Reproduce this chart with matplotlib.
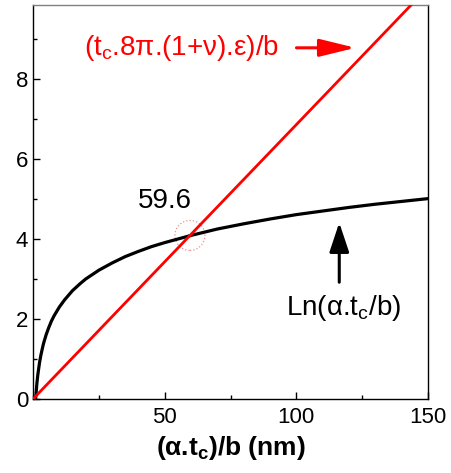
import matplotlib
matplotlib.use("Agg")
import matplotlib.pyplot as plt
from matplotlib.patches import Ellipse
from matplotlib.ticker import MultipleLocator

plt.rcParams["font.family"] = ["Liberation Sans", "DejaVu Sans"]
plt.rcParams["mathtext.fontset"] = "custom"
plt.rcParams["mathtext.rm"] = "Liberation Sans"
plt.rcParams["mathtext.bf"] = "Liberation Sans:bold"

# Ln(alpha.tc/b) curve
ln_x = [1, 1.2, 1.5, 1.8, 2, 2.5, 3, 3.5, 4, 5, 6, 7, 8, 10, 12, 15, 18,
        20, 25, 30, 35, 40, 45, 50, 60, 70, 80, 90, 100, 110, 120, 130,
        140, 150]
ln_y = [0.0, 0.18, 0.41, 0.59, 0.69, 0.92, 1.10, 1.25, 1.39, 1.61, 1.79,
        1.95, 2.08, 2.30, 2.48, 2.71, 2.89, 3.00, 3.22, 3.40, 3.56, 3.69,
        3.81, 3.91, 4.09, 4.25, 4.38, 4.50, 4.61, 4.70, 4.79, 4.87, 4.94,
        5.01]

# straight line (tc.8pi.(1+nu).eps)/b
lin_x = [0, 150]
lin_y = [0, 10.29]

cross_x = 59.6
cross_y = 4.09

fig = plt.figure(figsize=(4.51, 4.73), dpi=100)
ax = fig.add_axes([0.0732, 0.1564, 0.8758, 0.833])

ax.plot(ln_x, ln_y, color="black", linewidth=2.3, zorder=3,
        solid_joinstyle="round")
ax.plot(lin_x, lin_y, color="#ff0000", linewidth=2.0, zorder=4)

# faint dotted circle at the crossing point
ax.add_patch(Ellipse((cross_x, cross_y), 11.4, 0.75, fill=False,
                     edgecolor="#f09090", linestyle=":", linewidth=0.9, zorder=2))
ax.text(50, 4.95, f"{cross_x}", fontsize=20, ha="center", va="center")

ax.text(19.5, 8.78, "(t$_\\mathregular{c}$.8π.(1+ν).ε)/b", color="#ff0000",
        fontsize=20, ha="left", va="center")
ax.annotate("", xy=(123.5, 8.78), xytext=(99, 8.78),
            arrowprops=dict(arrowstyle="-|>,head_length=1.1,head_width=0.27",
                            mutation_scale=20, color="#ff0000", lw=2.2))

ax.text(117.8, 2.28, "Ln(α.t$_\\mathregular{c}$/b)", fontsize=20,
        ha="center", va="center")
ax.annotate("", xy=(116.3, 4.48), xytext=(116.3, 2.85),
            arrowprops=dict(arrowstyle="-|>,head_length=0.9,head_width=0.3",
                            mutation_scale=20, color="black", lw=2.2))

ax.set_xlim(0, 150)
ax.set_ylim(0, 9.85)
ax.xaxis.set_major_locator(MultipleLocator(50))
ax.xaxis.set_minor_locator(MultipleLocator(25))
ax.yaxis.set_major_locator(MultipleLocator(2))
ax.yaxis.set_minor_locator(MultipleLocator(1))
ax.set_xticks([50, 100, 150])
ax.tick_params(which="both", direction="in", top=False, right=False,
               labelsize=16, width=1)
ax.tick_params(which="major", length=5)
ax.tick_params(which="minor", length=3)
ax.tick_params(axis="x", pad=6)
ax.spines["top"].set_color("#808080")
for s in ax.spines.values():
    s.set_linewidth(1)

ax.set_xlabel("(α.t$_\\mathbf{c}$)/b (nm)", fontsize=19, fontweight="bold",
              labelpad=4)

fig.savefig("out.png", dpi=100)
